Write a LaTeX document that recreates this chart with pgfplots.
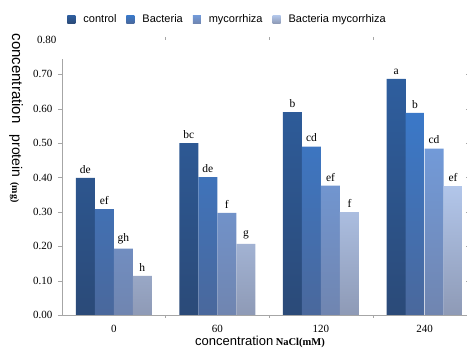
\documentclass[border=0pt]{standalone}
\usepackage{pgfplots}
\pgfplotsset{compat=1.18}
\usepackage{pgfplotstable}
\usepackage{fontspec}
\setmainfont{Liberation Serif}
\newfontfamily\arial{Liberation Sans}

\definecolor{cA}{HTML}{2E5E9E}\definecolor{cAb}{HTML}{2B4A78}
\definecolor{cB}{HTML}{3A78C8}\definecolor{cBb}{HTML}{4A689C}
\definecolor{cC}{HTML}{729AD8}\definecolor{cCb}{HTML}{7085B0}
\definecolor{cD}{HTML}{B2C6EA}\definecolor{cDb}{HTML}{8E9AB6}
\definecolor{axgray}{HTML}{A6A6A6}

\pgfplotstableread{
x ctrl ctrlL bac bacL myc mycL bm bmL
0 0.399 de 0.308 ef 0.193 gh 0.114 h
1 0.500 bc 0.401 de 0.297 f 0.207 g
2 0.590 b 0.490 cd 0.376 ef 0.299 f
3 0.687 a 0.588 b 0.484 cd 0.375 ef
}\datatable

\begin{document}
\begin{tikzpicture}[x=1pt,y=1pt]
\path[use as bounding box] (0,0) rectangle (467,355);
\begin{axis}[
  at={(62pt,40pt)}, anchor=south west,
  scale only axis, width=404pt, height=275pt,
  xmin=-0.5, xmax=3.4, ymin=0, ymax=0.8,
  axis line style={draw=none},
  ybar=0pt, bar width=19pt,
  xtick={0,1,2,3}, xticklabels={0,60,120,240},
  minor xtick={0.5,1.5,2.5},
  ytick={0,0.1,...,0.71},
  extra y ticks={0.8},
  extra y tick style={major tick length=0pt},
  tick align=outside,
  major tick length=4pt, minor tick length=3pt,
  x tick style={draw=none},
  minor x tick style={draw=axgray},
  y tick style={draw=axgray},
  tick label style={font=\fontsize{11}{13}\selectfont},
  x tick label style={yshift=-3pt},
  y tick label style={xshift=-2pt},
  /pgf/number format/assume math mode=true,
  yticklabel style={/pgf/number format/fixed, /pgf/number format/fixed zerofill, /pgf/number format/precision=2},
  point meta=explicit symbolic,
  nodes near coords,
  every node near coord/.append style={text=black, font=\fontsize{11.5}{13}\selectfont, yshift=1pt},
  legend columns=4,
  legend style={draw=none, fill=none, at={(0.41,1.075)}, anchor=center,
    font=\arial\fontsize{11}{13}\selectfont,
    /tikz/every odd column/.append style={column sep=6pt},
    /tikz/every even column/.append style={column sep=8pt}},
  legend image code/.code={\path[#1,draw=none] (0pt,-4pt) rectangle (8pt,4pt);},
  clip=false,
]
\addplot[draw=none, top color=cA, bottom color=cAb] table[x=x,y=ctrl,meta=ctrlL]{\datatable};
\addplot[draw=none, top color=cB, bottom color=cBb] table[x=x,y=bac,meta=bacL]{\datatable};
\addplot[draw=none, top color=cC, bottom color=cCb] table[x=x,y=myc,meta=mycL]{\datatable};
\addplot[draw=none, top color=cD, bottom color=cDb] table[x=x,y=bm,meta=bmL]{\datatable};
\legend{control,Bacteria,mycorrhiza,Bacteria mycorrhiza}
\draw[axgray, line width=0.8pt] (axis cs:-0.5,0) -- (axis cs:-0.5,0.745);
\draw[axgray, line width=0.8pt] (axis cs:-0.5,0) -- (axis cs:3.4,0);
\end{axis}
\node[anchor=center] at (260,13) {{\arial\fontsize{13}{15}\selectfont concentration} {\bfseries\fontsize{10.5}{12}\selectfont NaCl(mM)}};
\node[rotate=-90, anchor=center] at (16,237) {{\arial\fontsize{15}{17}\selectfont concentration}\hspace{11pt}{\arial\fontsize{14}{16}\selectfont protein}\hspace{5pt}{\bfseries\fontsize{10}{12}\selectfont (mg)}};
\end{tikzpicture}
\end{document}
